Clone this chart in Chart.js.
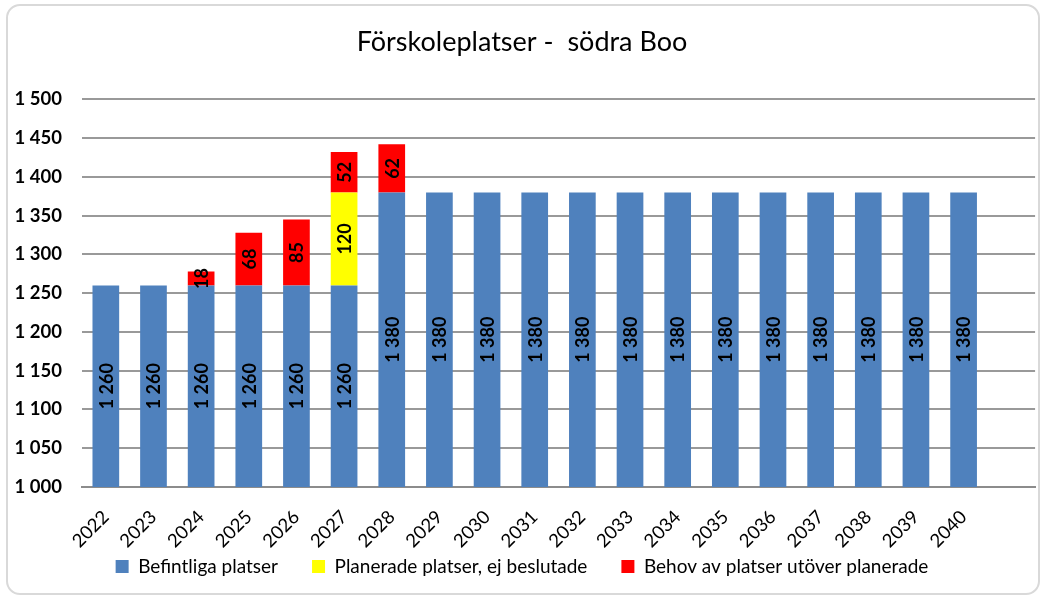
<!DOCTYPE html>
<html>
<head>
<meta charset="utf-8">
<script src="https://cdn.jsdelivr.net/npm/chart.js@4"></script>
<style>
  html, body { margin: 0; padding: 0; background: #fff; }
  #wrap {
    position: absolute; left: 6px; top: 4px;
    width: 1030px; height: 587px;
    border: 2px solid #d9d9d9; border-radius: 14px;
    overflow: hidden;
  }
</style>
</head>
<body>
<div id="wrap"><canvas id="bar-chart" width="1030" height="587"></canvas></div>
<script>
// years on the category axis (one empty slot at the end, as in the original)
var years = ["2022","2023","2024","2025","2026","2027","2028","2029","2030","2031",
             "2032","2033","2034","2035","2036","2037","2038","2039","2040",""];
var befintliga = [1260,1260,1260,1260,1260,1260,1380,1380,1380,1380,
                  1380,1380,1380,1380,1380,1380,1380,1380,1380,null];
var planerade = [null,null,null,null,null,120,null,null,null,null,
                 null,null,null,null,null,null,null,null,null,null];
var behov = [null,null,18,68,85,52,62,null,null,null,
             null,null,null,null,null,null,null,null,null,null];
var yTicks = [1000,1050,1100,1150,1200,1250,1300,1350,1400,1450,1500];

var FONT = "Lato, 'Open Sans', sans-serif";

function fmt(v) {
  return String(v).replace(/\B(?=(\d{3})+(?!\d))/g, " ");
}

// rotated value labels inside each bar segment
var barLabels = {
  id: "barLabels",
  afterDatasetsDraw: function (chart) {
    var ctx = chart.ctx;
    var area = chart.chartArea;
    ctx.save();
    ctx.font = "bold 18px " + FONT;
    ctx.fillStyle = "#000";
    ctx.textAlign = "center";
    ctx.textBaseline = "middle";
    chart.data.datasets.forEach(function (ds, i) {
      var meta = chart.getDatasetMeta(i);
      meta.data.forEach(function (bar, j) {
        var v = ds.data[j];
        if (v === null || v === undefined) return;
        var top = Math.max(bar.y, area.top);
        var bottom = Math.min(bar.base, area.bottom);
        var cy = (top + bottom) / 2;
        ctx.save();
        ctx.translate(bar.x, cy);
        ctx.rotate(-Math.PI / 2);
        ctx.fillText(fmt(v), 0, 1);
        ctx.restore();
      });
    });
    ctx.restore();
  }
};

new Chart(document.getElementById("bar-chart"), {
  type: "bar",
  data: {
    labels: years,
    datasets: [
      { label: "Befintliga platser", backgroundColor: "#4f81bd", data: befintliga },
      { label: "Planerade platser, ej beslutade", backgroundColor: "#ffff00", data: planerade },
      { label: "Behov av platser utöver planerade", backgroundColor: "#ff0000", data: behov }
    ]
  },
  options: {
    responsive: false,
    animation: false,
    layout: { padding: { left: 0, right: 2, top: 0, bottom: 7 } },
    datasets: {
      bar: { barPercentage: 0.56, categoryPercentage: 1.0 }
    },
    plugins: {
      title: {
        display: true,
        text: "Förskoleplatser -  södra Boo",
        color: "#000",
        font: { family: FONT, size: 27, weight: "normal" },
        padding: { top: 20, bottom: 41 }
      },
      legend: {
        position: "bottom",
        labels: {
          color: "#000",
          font: { family: FONT, size: 19 },
          boxWidth: 13,
          boxHeight: 13,
          padding: 34
        }
      },
      tooltip: { enabled: false }
    },
    scales: {
      x: {
        stacked: true,
        grid: { display: false },
        border: { display: true, color: "#8c8c8c", width: 2 },
        afterFit: function (axis) {
          axis.height = 36;
          // let the slanted year labels run below the (short) axis box
          axis._computeLabelArea = function () { return undefined; };
        },
        ticks: {
          color: "#000",
          font: { family: FONT, size: 18.5 },
          minRotation: 45,
          maxRotation: 45,
          autoSkip: false,
          padding: 11
        }
      },
      y: {
        stacked: true,
        min: 1000,
        max: 1500,
        afterBuildTicks: function (axis) {
          axis.ticks = yTicks.map(function (v) { return { value: v }; });
        },
        afterFit: function (axis) { axis.width = 74; },
        grid: { color: "#999999", lineWidth: 2, drawTicks: false },
        border: { display: false },
        ticks: {
          color: "#000",
          font: { family: FONT, size: 18.5, weight: "bold" },
          padding: 20,
          callback: function (v) { return fmt(v); }
        }
      }
    }
  },
  plugins: [barLabels]
});
</script>
</body>
</html>
